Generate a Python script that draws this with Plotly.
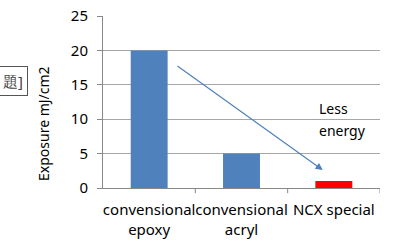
import plotly.graph_objects as go

categories = ["convensional<br>epoxy", "convensional<br>acryl", "NCX special"]
exposure = [20, 5, 1]
bar_colors = ["#4F81BD", "#4F81BD", "#FF0000"]
y_ticks = [0, 5, 10, 15, 20, 25]

font_family = "Noto Sans, Open Sans, sans-serif"

fig = go.Figure()
fig.add_trace(go.Bar(x=[0, 1, 2], y=exposure, marker=dict(color=bar_colors, line=dict(width=0)),
                     width=0.4))

fig.update_layout(
    width=399, height=250,
    margin=dict(l=103, r=19, t=16, b=62, autoexpand=False),
    paper_bgcolor="white", plot_bgcolor="white",
    showlegend=False,
    font=dict(family=font_family, size=14, color="#000000"),
    xaxis=dict(
        range=[-0.5, 2.5],
        tickvals=[0, 1, 2], ticktext=categories,
        showgrid=False, showline=True, linecolor="#888888", linewidth=1,
        ticks="", tickfont=dict(size=15), zeroline=False,
        ticklabelstandoff=8, tickangle=0, automargin=False,
    ),
    yaxis=dict(
        range=[0, 25], tickvals=y_ticks,
        showgrid=True, gridcolor="#A6A6A6", gridwidth=1,
        showline=True, linecolor="#888888", linewidth=1,
        ticks="outside", ticklen=5, tickcolor="#888888",
        tickfont=dict(size=15), zeroline=False,
        ticklabelstandoff=6, automargin=False,
    ),
)

# axis title
fig.add_annotation(x=-0.213, y=0.378, xref="paper", yref="paper", text="Exposure mJ/cm2",
                   textangle=-90, showarrow=False, xanchor="center", yanchor="middle",
                   font=dict(size=14))

# category boundary ticks on x axis
for xb in [0.5, 1.5, 2.5]:
    fig.add_shape(type="line", xref="x", yref="paper", x0=xb, x1=xb, y0=0, y1=-0.03,
                  line=dict(color="#888888", width=1))

# arrow
fig.add_annotation(x=1.88, y=2.6, ax=0.29, ay=17.9, xref="x", yref="y", axref="x", ayref="y",
                   text="", showarrow=True, arrowhead=2, arrowsize=1.2, arrowwidth=1.2,
                   arrowcolor="#4F81BD")

fig.add_annotation(x=1.815, y=11.6, xref="x", yref="y", text="Less", showarrow=False,
                   xanchor="left", yanchor="middle", font=dict(size=14))
fig.add_annotation(x=1.815, y=8.3, xref="x", yref="y", text="energy", showarrow=False,
                   xanchor="left", yanchor="middle", font=dict(size=14))

# caption box at the left edge (partly cut in the original)
fig.add_annotation(x=-0.271, y=0.622, xref="paper", yref="paper", text="題]", showarrow=False,
                   xanchor="right", yanchor="middle", bordercolor="#555555", borderwidth=1,
                   borderpad=4, font=dict(size=15, color="#444444"))

fig.write_html("out.html")
